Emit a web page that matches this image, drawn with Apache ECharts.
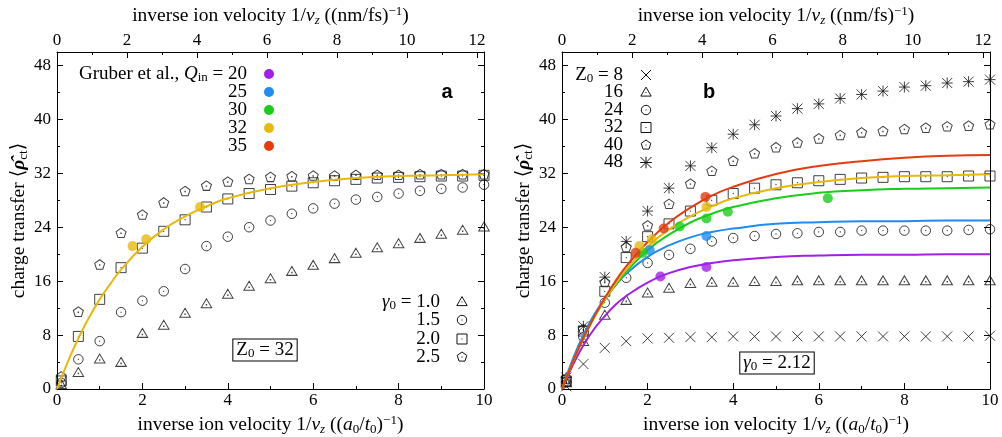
<!DOCTYPE html>
<html>
<head>
<meta charset="utf-8">
<script src="https://cdn.jsdelivr.net/npm/echarts@6/dist/echarts.min.js"></script>
<style>
html, body { margin: 0; padding: 0; background: #fff; }
#chart { width: 1002px; height: 437px; }
</style>
</head>
<body>
<div id="chart"></div>
<script>
// inverse velocity sample points (a0/t0)^-1, shared by all simulated series
var invVel = [0.1, 0.5, 1, 1.5, 2, 2.5, 3, 3.5, 4, 4.5, 5, 5.5, 6, 6.5, 7, 7.5, 8, 8.5, 9, 9.5, 10];

// panel a : Z0 = 32, different gamma0
var gam10 = [0.5, 2.3, 4.3, 3.8, 8.1, 9.3, 11.1, 12.5, 13.9, 15.1, 16.2, 17.3, 18.2, 19.2, 20.0, 20.8, 21.4, 22.2, 22.8, 23.4, 23.9];
var gam15 = [0.9, 4.4, 7.1, 11.4, 13.1, 14.5, 17.8, 21.2, 22.6, 24.0, 25.0, 26.0, 26.8, 27.5, 28.1, 28.5, 29.0, 29.4, 29.7, 29.9, 30.3];
var gam20 = [1.2, 7.8, 13.3, 18.0, 20.9, 23.4, 25.1, 27.0, 28.2, 29.0, 29.6, 30.1, 30.6, 30.9, 31.1, 31.3, 31.4, 31.5, 31.6, 31.6, 31.7];
var gam25 = [1.8, 11.4, 18.4, 23.1, 25.8, 27.6, 29.3, 30.1, 30.7, 31.1, 31.4, 31.5, 31.6, 31.6, 31.7, 31.7, 31.7, 31.8, 31.8, 31.8, 31.8];

// panel b : gamma0 = 2.12, different Z0
var z08 = [0.4, 3.7, 6.1, 7.1, 7.5, 7.6, 7.7, 7.7, 7.8, 7.8, 7.8, 7.8, 7.8, 7.8, 7.8, 7.8, 7.8, 7.8, 7.8, 7.8, 7.9];
var z16 = [0.8, 6.9, 10.8, 13.0, 14.1, 14.8, 15.5, 15.7, 15.7, 15.8, 15.8, 15.9, 15.9, 15.9, 15.9, 15.9, 15.9, 15.9, 15.9, 15.9, 15.9];
var z24 = [1.0, 7.7, 12.8, 16.5, 18.7, 19.9, 20.8, 21.9, 22.4, 22.7, 23.0, 23.1, 23.3, 23.3, 23.5, 23.5, 23.5, 23.5, 23.5, 23.6, 23.7];
var z32 = [1.2, 8.6, 14.5, 19.5, 22.6, 24.5, 26.4, 28.0, 29.0, 29.8, 30.3, 30.6, 30.9, 31.1, 31.3, 31.4, 31.5, 31.5, 31.5, 31.6, 31.6];
var z40 = [1.5, 8.8, 15.8, 21.0, 24.2, 27.4, 30.4, 32.3, 33.8, 34.9, 35.8, 36.5, 37.1, 37.6, 38.0, 38.2, 38.5, 38.7, 38.9, 39.0, 39.2];
var z48 = [1.7, 9.3, 16.6, 21.9, 26.4, 29.8, 33.1, 35.8, 37.8, 39.2, 40.5, 41.6, 42.3, 43.1, 43.7, 44.2, 44.8, 45.0, 45.4, 45.6, 45.9];

// fitted curves
var fitX  = [0, 0.25, 0.5, 0.75, 1, 1.25, 1.5, 2, 2.5, 3, 3.5, 4, 5, 6, 7, 8, 9, 10];
var fit20 = [0, 3.5, 6.5, 8.9, 10.8, 12.5, 13.8, 15.8, 17.2, 18.1, 18.7, 19.1, 19.6, 19.8, 19.9, 19.9, 20.0, 20.0];
var fit25 = [0, 4.4, 8.0, 11.0, 13.4, 15.4, 17.1, 19.6, 21.3, 22.5, 23.3, 23.8, 24.5, 24.75, 24.9, 24.9, 25.0, 25.0];
var fit30 = [0, 4.0, 7.5, 10.6, 13.2, 15.4, 17.4, 20.6, 22.9, 24.7, 26.0, 27.0, 28.3, 29.1, 29.5, 29.7, 29.8, 29.9];
var fit32 = [0, 4.0, 7.5, 10.6, 13.3, 15.6, 17.7, 21.1, 23.7, 25.6, 27.1, 28.3, 29.8, 30.7, 31.3, 31.6, 31.7, 31.85];
var fit35 = [0, 4.0, 7.6, 10.7, 13.5, 16.0, 18.2, 21.8, 24.7, 26.9, 28.7, 30.0, 31.9, 33.1, 33.8, 34.3, 34.6, 34.7];

// Gruber et al. experiment
var grub20X = [2.30, 3.375],               grub20Y = [16.7, 18.1];
var grub25X = [2.05, 3.375],               grub25Y = [20.6, 22.7];
var grub30X = [1.88, 2.75, 3.375, 3.875, 6.21], grub30Y = [20.2, 24.1, 25.3, 26.3, 28.3];
var grub32X = [1.81, 2.10, 3.375],         grub32Y = [21.2, 22.2, 27.0];
var grub35X = [1.72, 2.375, 3.35],         grub35Y = [20.2, 23.8, 28.5];
var grubA32X = [1.77, 2.09, 3.35],         grubA32Y = [21.2, 22.2, 27.0];

var C20 = '#a020e6', C25 = '#1e8cf0', C30 = '#19cd19', C32 = '#e6b90a', C35 = '#e33c10';
var SERIF = '"Liberation Serif", "DejaVu Serif", serif';

var P_TRI = 'M5 1L9.5 8.8L0.5 8.8ZM4.8 6H5.2V6.4H4.8ZM5 11.4';
var P_CIR = 'M0 5A5 5 0 1 1 10 5A5 5 0 1 1 0 5ZM4.8 4.8H5.2V5.2H4.8Z';
var P_SQR = 'M0 0H10V10H0ZM4.8 4.8H5.2V5.2H4.8Z';
var P_PEN = 'M5 0L9.76 3.45L7.94 9.05L2.06 9.05L0.24 3.45ZM4.8 4.8H5.2V5.2H4.8ZM5 10';
var P_CRS = 'M0 0L10 10M10 0L0 10';
var P_AST = 'M0 0L10 10M10 0L0 10M5 -0.5V10.5M-0.5 5H10.5';

var SZ = {};
SZ[P_TRI] = [10.5, 12]; SZ[P_CIR] = [9.5, 9.5]; SZ[P_SQR] = [10, 10];
SZ[P_PEN] = [10, 10.5]; SZ[P_CRS] = [10, 10]; SZ[P_AST] = [11, 11];

var rich = {
	t: { fontFamily: SERIF, fontSize: 19.5, lineHeight: 22, color: '#000' },
	i: { fontFamily: SERIF, fontSize: 19.5, lineHeight: 22, fontStyle: 'italic', color: '#000' },
	si: { fontFamily: SERIF, fontSize: 13, lineHeight: 13, fontStyle: 'italic', verticalAlign: 'bottom', color: '#000' },
	s: { fontFamily: SERIF, fontSize: 13, lineHeight: 13, verticalAlign: 'bottom', color: '#000' },
	p: { fontFamily: SERIF, fontSize: 13, lineHeight: 13, verticalAlign: 'top', color: '#000' },
	rb: { fontFamily: SERIF, fontSize: 19.5, lineHeight: 22, fontStyle: 'italic', fontWeight: 'bold', color: '#000' }
};
var legRich = {
	t: { fontFamily: SERIF, fontSize: 19, lineHeight: 21, color: '#000' },
	i: { fontFamily: SERIF, fontSize: 19, lineHeight: 21, fontStyle: 'italic', color: '#000' },
	s: { fontFamily: SERIF, fontSize: 13, lineHeight: 13, verticalAlign: 'bottom', color: '#000' }
};

var botName = '{t|inverse ion velocity 1/}{i|v}{si|z}{t| ((}{i|a}{s|0}{t|/}{i|t}{s|0}{t|)}{p|\u22121}{t|)}';
var topName = '{t|inverse ion velocity 1/}{i|v}{si|z}{t| ((nm/fs)}{p|\u22121}{t|)}';
var yName = '{t|charge transfer \u27e8}{rb|\u03c1\u0302}{s|ct}{t|\u27e9}';

function pairs(xs, ys) {
	var out = [];
	for (var k = 0; k < xs.length; k++) out.push([xs[k], ys[k]]);
	return out;
}

var black = { color: '#000', width: 1 };

function xAx(gi, pos, max, name, gap) {
	return {
		gridIndex: gi, type: 'value', position: pos, min: 0, max: max, interval: 2,
		name: name, nameLocation: 'middle', nameGap: gap,
		nameTextStyle: { rich: rich },
		axisLine: { show: true, onZero: false, lineStyle: black },
		axisTick: { show: true, inside: true, length: 6, lineStyle: black },
		minorTick: { show: true, splitNumber: 2, length: 3, lineStyle: black },
		axisLabel: {
			margin: 3, fontFamily: SERIF, fontSize: 17, color: '#000',
			formatter: function (v) { return v % 2 === 0 ? String(v) : ''; }
		},
		splitLine: { show: false }
	};
}

function yAx(gi, pos, labels) {
	return {
		gridIndex: gi, type: 'value', position: pos, min: 0, max: 50, interval: 8,
		name: labels ? yName : '', nameLocation: 'middle', nameGap: 27,
		nameTextStyle: { rich: rich },
		axisLine: { show: true, onZero: false, lineStyle: black },
		axisTick: { show: true, inside: true, length: 6, lineStyle: black },
		minorTick: { show: true, splitNumber: 2, length: 3, lineStyle: black },
		axisLabel: {
			show: labels, margin: 6, fontFamily: SERIF, fontSize: 17, color: '#000',
			formatter: function (v) { return v % 8 === 0 ? String(v) : ''; }
		},
		splitLine: { show: false }
	};
}

function pts(xi, yi, path, ys) {
	return {
		type: 'scatter', xAxisIndex: xi, yAxisIndex: yi, z: 2,
		symbol: 'path://' + path, symbolSize: SZ[path],
		itemStyle: { color: 'rgba(0,0,0,0)', borderColor: '#111', borderWidth: 1 },
		data: pairs(invVel, ys)
	};
}

function fit(xi, yi, ys, col) {
	return {
		type: 'line', xAxisIndex: xi, yAxisIndex: yi, z: 3, smooth: 0.5,
		symbol: 'none', lineStyle: { color: col, width: 2 },
		data: pairs(fitX, ys)
	};
}

function dots(xi, yi, xs, ys, col) {
	return {
		type: 'scatter', xAxisIndex: xi, yAxisIndex: yi, z: 4,
		symbol: 'circle', symbolSize: 10, itemStyle: { color: col },
		data: pairs(xs, ys)
	};
}

// legend helpers (pixel annotations)
var stroke = { fill: 'none', stroke: '#111', lineWidth: 1 };
function legText(x, y, txt, align) {
	return { type: 'text', x: x, y: y, z: 10, style: { text: txt, rich: legRich, align: align || 'right', verticalAlign: 'middle' } };
}
function cdot() {
	return { type: 'rect', shape: { x: -0.5, y: -0.5, width: 1, height: 1 }, style: { fill: '#111' } };
}
function legMark(cx, cy, kind) {
	var ch = [];
	if (kind === 'tri') {
		ch.push({ type: 'polygon', shape: { points: [[0, -5.4], [5.2, 3.6], [-5.2, 3.6]] }, style: stroke }, cdot());
	} else if (kind === 'cir') {
		ch.push({ type: 'circle', shape: { cx: 0, cy: 0, r: 4.7 }, style: stroke }, cdot());
	} else if (kind === 'sqr') {
		ch.push({ type: 'rect', shape: { x: -5, y: -5, width: 10, height: 10 }, style: stroke }, cdot());
	} else if (kind === 'pen') {
		ch.push({ type: 'polygon', shape: { points: [[0, -5], [4.8, -1.6], [3, 4.1], [-3, 4.1], [-4.8, -1.6]] }, style: stroke }, cdot());
	} else if (kind === 'crs') {
		ch.push({ type: 'line', shape: { x1: -5, y1: -5, x2: 5, y2: 5 }, style: stroke },
			{ type: 'line', shape: { x1: 5, y1: -5, x2: -5, y2: 5 }, style: stroke });
	} else {
		ch.push({ type: 'line', shape: { x1: -5.5, y1: -5.5, x2: 5.5, y2: 5.5 }, style: stroke },
			{ type: 'line', shape: { x1: 5.5, y1: -5.5, x2: -5.5, y2: 5.5 }, style: stroke },
			{ type: 'line', shape: { x1: 0, y1: -5.8, x2: 0, y2: 5.8 }, style: stroke },
			{ type: 'line', shape: { x1: -5.8, y1: 0, x2: 5.8, y2: 0 }, style: stroke });
	}
	return { type: 'group', x: cx, y: cy, z: 10, children: ch };
}
function legDot(cx, cy, col) {
	return { type: 'circle', z: 10, shape: { cx: cx, cy: cy, r: 5 }, style: { fill: col } };
}
function boxText(cx, cy, txt) {
	return {
		type: 'text', x: cx, y: cy, z: 10,
		style: { text: txt, rich: legRich, align: 'center', verticalAlign: 'middle',
			borderColor: '#000', borderWidth: 1, padding: [0, 3, 0, 3], backgroundColor: '#fff' }
	};
}

var graphics = [
	legText(247, 74, '{t|Gruber et al., }{i|Q}{s|in}{t| = 20}'),
	legText(247, 92, '{t|25}'), legText(247, 110, '{t|30}'),
	legText(247, 128, '{t|32}'), legText(247, 146, '{t|35}'),
	legDot(269, 74, C20), legDot(269, 92, C25), legDot(269, 110, C30),
	legDot(269, 128, C32), legDot(269, 146, C35),

	legText(440, 302, '{i|\u03b3}{s|0}{t| = 1.0}'), legText(440, 320, '{t|1.5}'),
	legText(440, 339, '{t|2.0}'), legText(440, 357, '{t|2.5}'),
	legMark(462, 302, 'tri'), legMark(462, 320, 'cir'), legMark(462, 339, 'sqr'), legMark(462, 357, 'pen'),
	boxText(265, 350, '{t|Z}{s|0}{t| = 32}'),
	{ type: 'text', x: 447, y: 92, z: 10, style: { text: 'a', font: 'bold 20px "Liberation Sans", Arial, sans-serif', align: 'center', verticalAlign: 'middle', fill: '#000' } },

	legText(623, 75, '{t|Z}{s|0}{t| = 8}'), legText(623, 92.5, '{t|16}'), legText(623, 110, '{t|24}'),
	legText(623, 127.5, '{t|32}'), legText(623, 145, '{t|40}'), legText(623, 162.5, '{t|48}'),
	legMark(646, 75, 'crs'), legMark(646, 92.5, 'tri'), legMark(646, 110, 'cir'),
	legMark(646, 127.5, 'sqr'), legMark(646, 145, 'pen'), legMark(646, 162.5, 'ast'),
	boxText(777, 363, '{i|\u03b3}{s|0}{t| = 2.12}'),
	{ type: 'text', x: 709, y: 92, z: 10, style: { text: 'b', font: 'bold 20px "Liberation Sans", Arial, sans-serif', align: 'center', verticalAlign: 'middle', fill: '#000' } }
];

var option = {
	backgroundColor: '#fff',
	animation: false,
	grid: [
		{ left: 57, top: 52, width: 427, height: 337, containLabel: false, outerBoundsMode: 'none' },
		{ left: 562, top: 52, width: 428, height: 337, containLabel: false, outerBoundsMode: 'none' }
	],
	xAxis: [
		xAx(0, 'bottom', 10, botName, 25),
		xAx(0, 'top', 12.2, topName, 19),
		xAx(1, 'bottom', 10, botName, 25),
		xAx(1, 'top', 12.2, topName, 19)
	],
	yAxis: [
		yAx(0, 'left', true),
		yAx(0, 'right', false),
		yAx(1, 'left', true),
		yAx(1, 'right', false)
	],
	series: [
		pts(0, 0, P_TRI, gam10), pts(0, 0, P_CIR, gam15), pts(0, 0, P_SQR, gam20), pts(0, 0, P_PEN, gam25),
		fit(0, 0, fit32, C32),
		dots(0, 0, grubA32X, grubA32Y, C32),

		pts(2, 2, P_CRS, z08), pts(2, 2, P_TRI, z16), pts(2, 2, P_CIR, z24),
		pts(2, 2, P_SQR, z32), pts(2, 2, P_PEN, z40), pts(2, 2, P_AST, z48),
		fit(2, 2, fit20, C20), fit(2, 2, fit25, C25), fit(2, 2, fit30, C30),
		fit(2, 2, fit32, C32), fit(2, 2, fit35, C35),
		dots(2, 2, grub20X, grub20Y, C20), dots(2, 2, grub25X, grub25Y, C25),
		dots(2, 2, grub30X, grub30Y, C30), dots(2, 2, grub32X, grub32Y, C32),
		dots(2, 2, grub35X, grub35Y, C35)
	],
	graphic: graphics
};

var myChart = echarts.init(document.getElementById('chart'));
myChart.setOption(option);
</script>
</body>
</html>
